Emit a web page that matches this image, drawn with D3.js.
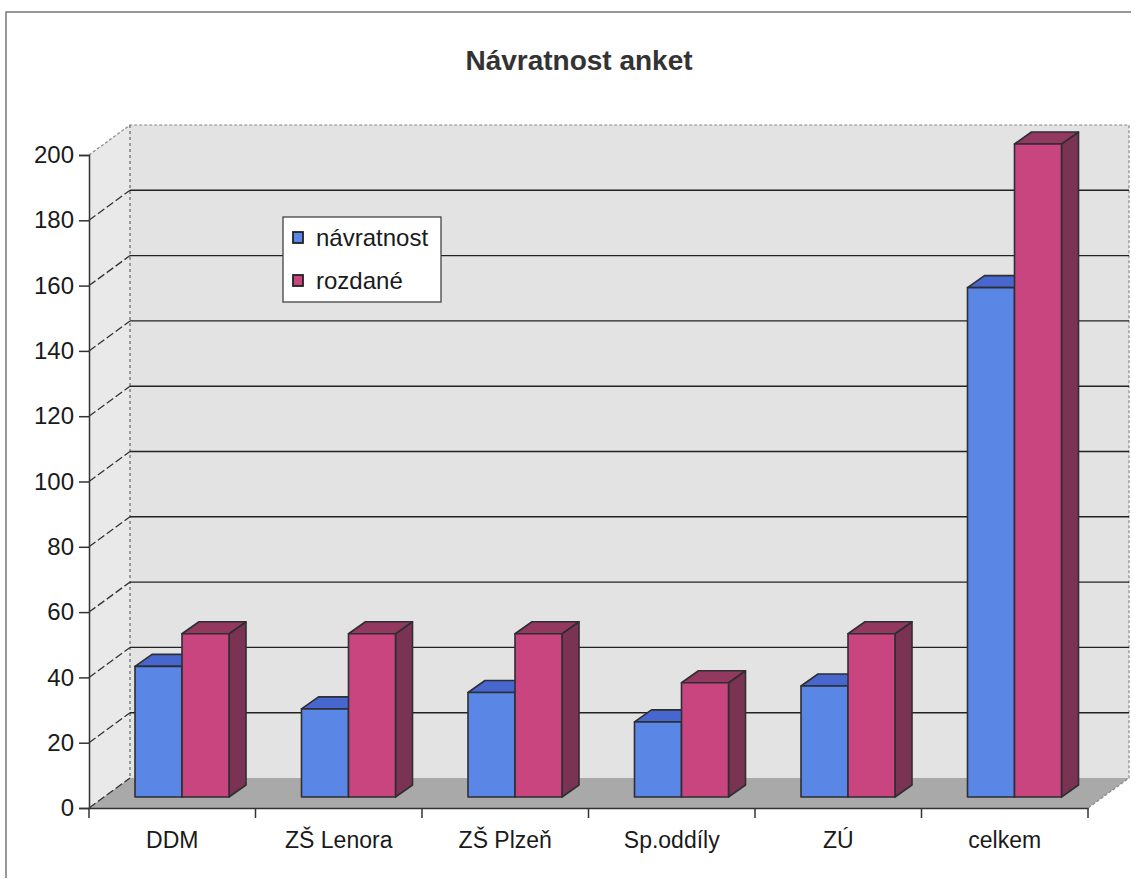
<!DOCTYPE html>
<html><head><meta charset="utf-8">
<script src="https://cdn.jsdelivr.net/npm/d3@7"></script>
<style>body{margin:0;background:#fff}svg{display:block}text{font-family:"Liberation Sans",Arial,sans-serif}</style>
</head><body><svg id="c" width="1138" height="879"></svg>
<script>
const categories = ["DDM","ZŠ Lenora","ZŠ Plzeň","Sp.oddíly","ZÚ","celkem"];
const navratnost = [40,27,32,23,34,156];
const rozdane = [50,50,50,35,50,200];
const seriesNames = ["návratnost","rozdané"];
const yTicks = [0,20,40,60,80,100,120,140,160,180,200];
const title = "Návratnost anket";

const svg = d3.select("#c");
const x0=89, x1=1088, yTop=155, yBot=808;
const DX=41, DY=-30; // wall depth
const y = d3.scaleLinear().domain([0,200]).range([yBot,yTop]);
const x = d3.scaleBand().domain(categories).range([x0,x1]);

// frame
svg.append("path").attr("d",`M6,878 L6,12 L1131,12`).attr("fill","none").attr("stroke","#777").attr("stroke-width",1.5);

svg.append("text").attr("x",579).attr("y",70).attr("text-anchor","middle")
  .attr("font-size",28).attr("font-weight","bold").attr("fill","#333").text(title);

const pts = a=>a.map(p=>p.join(",")).join(" ");
// walls
svg.append("polygon").attr("points",pts([[x0,yBot],[x0,yTop],[x0+DX,yTop+DY],[x0+DX,yBot+DY]])).attr("fill","#e9e9e9");
svg.append("polygon").attr("points",pts([[x0+DX,yTop+DY],[x1+DX,yTop+DY],[x1+DX,yBot+DY],[x0+DX,yBot+DY]])).attr("fill","#e3e3e3");
svg.append("polygon").attr("points",pts([[x0,yBot],[x1,yBot],[x1+DX,yBot+DY],[x0+DX,yBot+DY]])).attr("fill","#a9a9a9");
// wall borders
svg.append("path").attr("d",`M${x0},${yTop} L${x0+DX},${yTop+DY} L${x1+DX},${yTop+DY} L${x1+DX},${yBot+DY} L${x1},${yBot}`)
  .attr("fill","none").attr("stroke","#888").attr("stroke-dasharray","3,2").attr("stroke-width",1.2);
svg.append("line").attr("x1",x0+DX).attr("x2",x0+DX).attr("y1",yTop+DY).attr("y2",yBot+DY)
  .attr("stroke","#666").attr("stroke-dasharray","3,3").attr("stroke-width",1.2);

// gridlines
yTicks.filter(v=>v>0 && v<200).forEach(v=>{
  svg.append("line").attr("x1",x0+DX).attr("x2",x1+DX).attr("y1",y(v)+DY).attr("y2",y(v)+DY).attr("stroke","#222").attr("stroke-width",1.4);
});
yTicks.filter(v=>v<200).forEach(v=>{
  svg.append("line").attr("x1",x0).attr("y1",y(v)).attr("x2",x0+DX).attr("y2",y(v)+DY)
    .attr("stroke","#333").attr("stroke-width",1.3).attr("stroke-dasharray","8,3");
});

// axes
const yAxis = d3.axisLeft(y).tickValues(yTicks).tickSize(10).tickPadding(5);
const gy = svg.append("g").attr("transform",`translate(${x0},0)`).call(yAxis);
gy.selectAll("text").attr("font-size",24).attr("fill","#1a1a1a").attr("font-family","Liberation Sans, Arial, sans-serif");
gy.selectAll("line,path").attr("stroke","#333").attr("stroke-width",1.5);

const xAxis = d3.axisBottom(x).tickSize(0).tickPadding(24);
const gx = svg.append("g").attr("transform",`translate(0,${yBot})`).call(xAxis);
gx.select(".domain").attr("stroke","#333").attr("stroke-width",1.5);
gx.selectAll("text").attr("font-size",23).attr("fill","#1a1a1a").attr("font-family","Liberation Sans, Arial, sans-serif");
// tick marks at band boundaries
const bounds = categories.map(c=>x(c)).concat([x1]);
svg.selectAll(".bt").data(bounds).enter().append("line")
  .attr("x1",d=>d).attr("x2",d=>d).attr("y1",yBot).attr("y2",yBot+10).attr("stroke","#333").attr("stroke-width",1.5);

// bars
const fOff=15, bOff=-11; // bar placement within floor depth
const bdx=17, bdy=-12;
const bw=47, bLeft=31;
const cols = [
  {front:"#5a86e6", top:"#4767cf", side:"#35509f"},
  {front:"#c8457f", top:"#93395f", side:"#7a3352"}
];
const series=[navratnost,rozdane];
const gb = svg.append("g");
categories.forEach((c,i)=>{
  series.forEach((s,k)=>{
    const v=s[i];
    const xl = x(c)+fOff+bLeft+k*bw;
    const xr = xl+bw;
    const yb = y(0)+bOff, yt = y(v)+bOff;
    const col=cols[k];
    const g=gb.append("g").attr("stroke","#2e2e33").attr("stroke-width",1.6).attr("stroke-linejoin","round");
    g.append("polygon").attr("points",pts([[xr,yb],[xr,yt],[xr+bdx,yt+bdy],[xr+bdx,yb+bdy]])).attr("fill",col.side);
    g.append("polygon").attr("points",pts([[xl,yt],[xl+bdx,yt+bdy],[xr+bdx,yt+bdy],[xr,yt]])).attr("fill",col.top);
    g.append("rect").attr("x",xl).attr("y",yt).attr("width",bw).attr("height",yb-yt).attr("fill",col.front);
  });
});

// legend
const lg = svg.append("g");
lg.append("rect").attr("x",283).attr("y",217).attr("width",158).attr("height",85).attr("fill","#fff").attr("stroke","#444").attr("stroke-width",1.3);
seriesNames.forEach((n,k)=>{
  const yy = 232+k*43;
  lg.append("rect").attr("x",293).attr("y",yy).attr("width",10).attr("height",11).attr("fill",cols[k].front).attr("stroke","#222").attr("stroke-width",1.8);
  lg.append("text").attr("x",316).attr("y",yy+14).attr("font-size",24).attr("fill","#1a1a1a").text(n);
});
</script></body></html>
